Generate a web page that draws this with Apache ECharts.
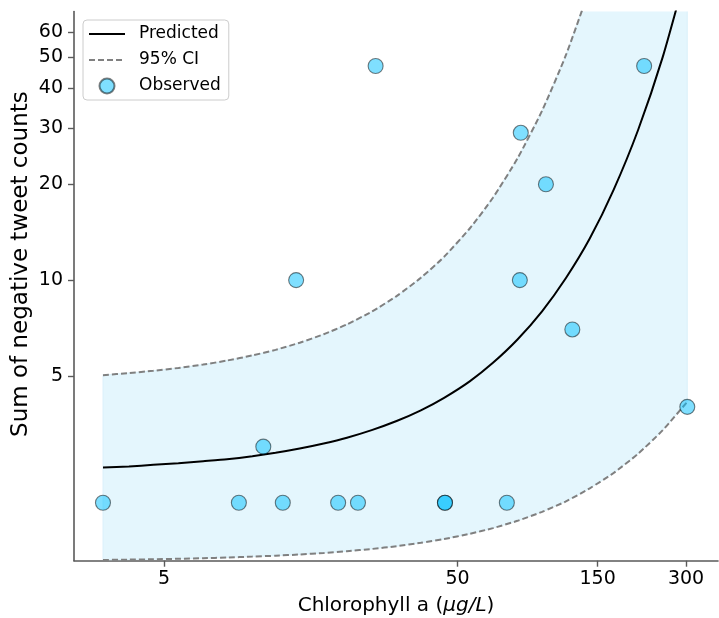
<!DOCTYPE html>
<html>
<head>
<meta charset="utf-8">
<script src="https://cdn.jsdelivr.net/npm/echarts@6.0.0/dist/echarts.min.js"></script>
<style>
  html, body { margin: 0; padding: 0; background: #fff; }
  #chart { width: 719px; height: 618px; }
</style>
</head>
<body>
<div id="chart"></div>
<script>
// observed points (chlorophyll a, negative tweet count)
const chlA = [3.1, 9.0, 10.9, 12.7, 14.1, 19.6, 22.9, 26.3, 45.3, 45.3, 73.6, 81.5, 82.1, 100, 123, 216, 303];
const tweets = [2, 2, 3, 2, 10, 2, 2, 47, 2, 2, 2, 10, 29, 20, 7, 47, 4];

// fitted curve and 95% CI
const fitX = [3.1, 3.8, 4.6, 5.6, 6.8, 8.2, 10, 12, 14.5, 17.5, 21, 25.5, 31, 37.5, 45, 55, 66, 80, 97, 117, 141, 170, 206, 250, 303];
const predicted = [2.58, 2.6, 2.63, 2.66, 2.7, 2.74, 2.8, 2.87, 2.96, 3.07, 3.2, 3.38, 3.61, 3.9, 4.27, 4.81, 5.5, 6.51, 7.98, 10.15, 13.5, 19.2, 29.6, 50.2, 95];
const ciUpper = [5.03, 5.11, 5.19, 5.3, 5.43, 5.59, 5.8, 6.04, 6.36, 6.76, 7.26, 7.96, 8.91, 10.17, 11.84, 14.52, 18.14, 24.1, 34, 50.9, 82.8, 149, 307, 747, 2176];
const ciLower = [1.322, 1.326, 1.329, 1.334, 1.339, 1.346, 1.355, 1.364, 1.376, 1.391, 1.409, 1.432, 1.461, 1.497, 1.539, 1.597, 1.665, 1.755, 1.873, 2.02, 2.22, 2.48, 2.85, 3.38, 4.15];

// axis ticks and limits
const xTicks = [5, 50, 150, 300];
const yTicks = [5, 10, 20, 30, 40, 50, 60];
const xRange = [2.47, 385.5];
const yRange = [1.3155, 69.7];

const FONT = "DejaVu Sans";
const AXIS_COLOR = "#5a5a5a";

// both axes are log10 scaled
const lg = Math.log10;
const pairs = (xs, ys) => xs.map((x, i) => [lg(x), lg(ys[i])]);
const fmtTick = v => String(Math.round(Math.pow(10, v)));

const chart = echarts.init(document.getElementById("chart"), null, { renderer: "canvas" });

// shaded band between lower and upper CI
function renderBand(params, api) {
  const top = fitX.map((x, i) => api.coord([lg(x), lg(ciUpper[i])]));
  const bottom = fitX.map((x, i) => api.coord([lg(x), lg(ciLower[i])])).reverse();
  return {
    type: "polygon",
    shape: { points: top.concat(bottom) },
    style: { fill: "#e4f6fd", stroke: "#d5eff9", lineWidth: 0.8 }
  };
}

const option = {
  animation: false,
  grid: {
    left: 74,
    right: 1,
    top: 11.5,
    bottom: 57.3,
    containLabel: false,
    outerBoundsMode: "none"
  },
  legend: {
    data: [
      { name: "Predicted", itemStyle: { opacity: 0, color: "rgba(0,0,0,0)", borderWidth: 0 } },
      { name: "95% CI", itemStyle: { opacity: 0, color: "rgba(0,0,0,0)", borderWidth: 0 } },
      "Observed"
    ],
    orient: "vertical",
    left: 83,
    top: 20,
    itemWidth: 36,
    itemHeight: 15,
    itemGap: 6,
    padding: [4, 8, 4, 5],
    borderColor: "#cccccc",
    borderWidth: 1,
    borderRadius: 4,
    backgroundColor: "rgba(255,255,255,0.8)",
    textStyle: {
      fontFamily: FONT,
      fontSize: 17,
      color: "#000",
      lineHeight: 20,
      padding: [0, 0, 0, 9]
    }
  },
  xAxis: {
    type: "value",
    min: lg(xRange[0]),
    max: lg(xRange[1]),
    name: "Chlorophyll a ({i|μg/L})",
    nameLocation: "middle",
    nameGap: 35,
    nameTextStyle: {
      fontFamily: FONT,
      fontSize: 20,
      color: "#000",
      rich: {
        i: { fontFamily: FONT, fontSize: 20, fontStyle: "italic", color: "#000" }
      }
    },
    axisLine: { lineStyle: { color: AXIS_COLOR, width: 1.6 } },
    axisTick: {
      length: 6,
      customValues: xTicks.map(lg),
      lineStyle: { color: AXIS_COLOR, width: 1.4 }
    },
    axisLabel: {
      customValues: xTicks.map(lg),
      formatter: fmtTick,
      margin: 9,
      fontFamily: FONT,
      fontSize: 19,
      color: "#000"
    },
    splitLine: { show: false }
  },
  yAxis: {
    type: "value",
    min: lg(yRange[0]),
    max: lg(yRange[1]),
    name: "Sum of negative tweet counts",
    nameLocation: "middle",
    nameGap: 41,
    nameMoveOverlap: false,
    nameTextStyle: {
      fontFamily: FONT,
      fontSize: 23,
      color: "#000",
      padding: [0, 0, 0, 44]
    },
    axisLine: { show: true, lineStyle: { color: AXIS_COLOR, width: 1.6 } },
    axisTick: {
      show: true,
      length: 6,
      customValues: yTicks.map(lg),
      lineStyle: { color: AXIS_COLOR, width: 1.4 }
    },
    axisLabel: {
      customValues: yTicks.map(lg),
      formatter: fmtTick,
      margin: 11,
      fontFamily: FONT,
      fontSize: 19,
      color: "#000"
    },
    splitLine: { show: false }
  },
  series: [
    {
      name: "ciBand",
      type: "custom",
      data: [0],
      renderItem: renderBand,
      clip: true,
      silent: true,
      z: 1
    },
    {
      name: "95% CI",
      type: "line",
      data: pairs(fitX, ciUpper),
      symbol: "none",
      smooth: 0.2,
      lineStyle: { color: "#808080", width: 2, type: [6, 3] },
      itemStyle: { color: "#808080" },
      z: 2
    },
    {
      name: "95% CI",
      type: "line",
      data: pairs(fitX, ciLower),
      symbol: "none",
      smooth: 0.2,
      lineStyle: { color: "#808080", width: 2, type: [6, 3] },
      itemStyle: { color: "#808080" },
      z: 2
    },
    {
      name: "Predicted",
      type: "line",
      data: pairs(fitX, predicted),
      symbol: "none",
      smooth: 0.2,
      lineStyle: { color: "#000", width: 2 },
      itemStyle: { color: "#000" },
      z: 3
    },
    {
      name: "Observed",
      type: "scatter",
      data: pairs(chlA, tweets),
      symbol: "circle",
      symbolSize: 15,
      itemStyle: {
        color: "#00bfff",
        opacity: 0.5,
        borderColor: "#000",
        borderWidth: 1.1
      },
      z: 4
    }
  ]
};

chart.setOption(option);
</script>
</body>
</html>
